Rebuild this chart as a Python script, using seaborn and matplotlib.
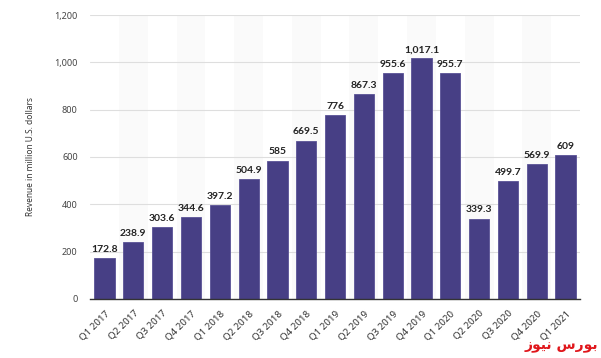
import matplotlib
matplotlib.use('Agg')
import pandas as pd
import seaborn as sns
import matplotlib.pyplot as plt

quarters = ['Q1 2017', 'Q2 2017', 'Q3 2017', 'Q4 2017', 'Q1 2018', 'Q2 2018',
            'Q3 2018', 'Q4 2018', 'Q1 2019', 'Q2 2019', 'Q3 2019', 'Q4 2019',
            'Q1 2020', 'Q2 2020', 'Q3 2020', 'Q4 2020', 'Q1 2021']
revenue = [172.8, 238.9, 303.6, 344.6, 397.2, 504.9, 585, 669.5, 776, 867.3,
           955.6, 1017.1, 955.7, 339.3, 499.7, 569.9, 609]
yticks = [0, 200, 400, 600, 800, 1000, 1200]

df = pd.DataFrame({'Quarter': quarters, 'Revenue': revenue})

sns.set_style('white')
plt.rcParams['font.family'] = ['Noto Sans', 'DejaVu Sans']

fig = plt.figure(figsize=(6.01, 3.58), dpi=100)
ax = fig.add_axes([0.150, 0.165, 0.815, 0.793])

# faint alternating column bands
for i in range(1, len(quarters), 2):
    ax.axvspan(i - 0.5, i + 0.5, color='#fafafa', zorder=0, lw=0)

sns.barplot(data=df, x='Quarter', y='Revenue', color='#473f85', saturation=1,
            width=0.7, ax=ax, zorder=3, edgecolor='#5a5296', linewidth=0.6)

labels = [f'{v:,g}' for v in revenue]
ax.bar_label(ax.containers[0], labels=labels, padding=3, fontsize=7.5,
             fontweight='bold', color='#222222', family=['Lato', 'DejaVu Sans'])

ax.set_ylim(0, 1200)
ax.set_xlim(-0.5, len(quarters) - 0.5)
ax.set_yticks(yticks)
ax.set_yticklabels([f'{t:,}' for t in yticks], fontsize=6.5, color='#444444')
ax.set_xticks(range(len(quarters)))
ax.set_xticklabels(quarters, rotation=45, ha='right', rotation_mode='anchor',
                   fontsize=7, color='#333333')
ax.tick_params(axis='y', length=0, pad=9)
ax.tick_params(axis='x', length=0, pad=7)

ax.grid(axis='y', color='#dedede', linewidth=0.8, zorder=1)
ax.set_axisbelow(True)
for side in ['top', 'right', 'left']:
    ax.spines[side].set_visible(False)
ax.spines['bottom'].set_color('#333333')
ax.spines['bottom'].set_linewidth(1)
ax.spines['bottom'].set_zorder(4)

ax.set_xlabel('')
ax.set_ylabel('Revenue in million U.S. dollars', fontsize=6, color='#333333',
              labelpad=14)

# watermark text (Persian, presentation forms in visual order)
fig.text(0.995, 0.015, '\ufeaf\ufeee\ufef4\ufee7 \ufeb1\ufead\ufeee\ufe91',
         ha='right', va='bottom', color='#e0161b', fontsize=10,
         fontweight='bold', family=['DejaVu Sans'])

fig.savefig('out.png', dpi=100)
